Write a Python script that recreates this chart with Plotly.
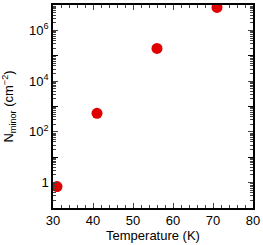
import plotly.graph_objects as go

temperature = [31, 41, 56, 71]
n_minor = [0.7, 540, 1.95e5, 8.0e6]

x_major = [30, 40, 50, 60, 70, 80]
y_label_vals = [1, 1e2, 1e4, 1e6]
y_label_text = ["1", "10<sup>2</sup>", "10<sup>4</sup>", "10<sup>6</sup>"]
y_odd_decades = [1e-1, 1e1, 1e3, 1e5, 1e7]
y_minor_vals = [m * 10 ** e for e in range(-1, 7) for m in range(2, 10)]

font = dict(family="Liberation Sans, Arial, sans-serif", size=13, color="black")

fig = go.Figure(go.Scatter(
    x=temperature, y=n_minor, mode="markers",
    marker=dict(color="#e00000", size=11, line=dict(width=0)),
))
fig.add_trace(go.Scatter(x=[], y=[], yaxis="y2", showlegend=False, hoverinfo="skip"))

fig.update_layout(
    width=263, height=245,
    margin=dict(l=53, r=6, t=3, b=37),
    paper_bgcolor="white", plot_bgcolor="white",
    showlegend=False, font=font,
    xaxis=dict(
        range=[30, 80], tickvals=x_major, ticks="inside", ticklen=5, tickwidth=1.3,
        showline=True, linecolor="black", linewidth=1.5, mirror="ticks",
        showgrid=False, zeroline=False, tickfont=font, ticklabeloverflow="allow",
        minor=dict(dtick=2, tick0=30, ticks="inside", ticklen=3, tickwidth=1.2, showgrid=False),
        title=dict(text="Temperature (K)", font=font, standoff=0),
    ),
    yaxis=dict(
        type="log", range=[-1, 7], tickvals=y_label_vals, ticktext=y_label_text,
        ticks="inside", ticklen=5, tickwidth=1.3,
        showline=True, linecolor="black", linewidth=1.5, mirror="ticks",
        showgrid=False, zeroline=False, tickfont=font,
        minor=dict(tickvals=y_minor_vals, ticks="inside", ticklen=3, tickwidth=1.2, showgrid=False),
        title=dict(text="N<sub>minor</sub> (cm<sup>−2</sup>)", font=font, standoff=15),
    ),
    yaxis2=dict(
        type="log", range=[-1, 7], overlaying="y", side="left",
        tickvals=y_odd_decades, showticklabels=False,
        ticks="inside", ticklen=5, tickwidth=1.3, tickcolor="black",
        showline=False, mirror="ticks", showgrid=False, zeroline=False,
    ),
)

fig.write_html("out.html", config={"displayModeBar": False},
               post_script="document.body.style.margin='0';")
